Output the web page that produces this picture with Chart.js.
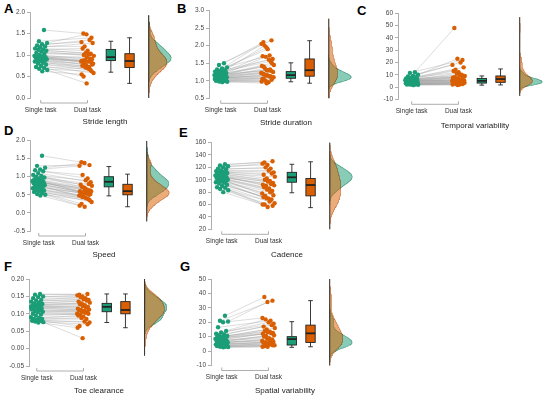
<!DOCTYPE html>
<html><head><meta charset="utf-8">
<script src="https://cdn.jsdelivr.net/npm/chart.js@4.4.1/dist/chart.umd.min.js"></script>
<style>
html,body{margin:0;padding:0;background:#fff;overflow:hidden;width:550px;height:399px;}
#wrap{position:relative;width:550px;height:399px;overflow:hidden;}
#wrap canvas{position:absolute;}
.lab{position:absolute;font:bold 13px "Liberation Sans",Arial,sans-serif;color:#000;line-height:13px;}
</style></head><body><div id="wrap">
<div class="lab" style="left:4px;top:2px">A</div>
<div class="lab" style="left:177px;top:2px">B</div>
<div class="lab" style="left:357px;top:4px">C</div>
<div class="lab" style="left:4px;top:124px">D</div>
<div class="lab" style="left:179px;top:126px">E</div>
<div class="lab" style="left:4px;top:260px">F</div>
<div class="lab" style="left:180px;top:260px">G</div>
</div>
<script>
// ---- data ----
const groupLabels = ['Single task', 'Dual task'];

const strideLengthSingle = [1.58,1.32,1.28,1.25,1.22,1.20,1.18,1.15,1.13,1.12,1.10,1.08,1.05,1.03,1.00,0.98,0.97,0.96,0.95,0.95,0.94,0.93,0.92,0.90,0.90,0.88,0.87,0.86,0.85,0.82,0.80,0.78,0.75,0.72,0.70,0.68,0.65,0.62];
const strideLengthDual   = [1.50,1.40,1.48,1.30,1.35,1.20,1.28,1.10,1.15,1.03,1.05,0.98,1.02,1.00,0.90,0.95,0.86,0.92,0.88,0.80,0.85,0.87,0.83,0.76,0.85,0.72,0.80,0.78,0.70,0.75,0.65,0.71,0.58,0.68,0.50,0.62,0.34,0.55];
const strideLengthBoxSingle = [0.60,0.87,0.95,1.13,1.32];
const strideLengthBoxDual   = [0.34,0.71,0.86,1.03,1.40];

const strideDurSingle = [1.50,1.45,1.38,1.35,1.32,1.30,1.28,1.26,1.25,1.24,1.22,1.20,1.19,1.18,1.17,1.16,1.16,1.15,1.14,1.13,1.12,1.11,1.10,1.10,1.09,1.08,1.07,1.06,1.05,1.04,1.03,1.02,1.01,1.00,0.99,0.98,0.97,0.96];
const strideDurDual   = [2.10,2.15,1.95,2.05,1.72,2.00,1.62,1.90,1.70,1.55,1.68,1.45,1.60,1.40,1.50,1.30,1.42,1.32,1.35,1.25,1.30,1.20,1.28,1.15,1.22,1.12,1.18,1.08,1.16,1.05,1.13,1.00,1.10,0.96,1.06,1.03,0.93,0.98];
const strideDurBoxSingle = [0.97,1.07,1.16,1.26,1.51];
const strideDurBoxDual   = [0.93,1.13,1.30,1.62,2.14];

const tempVarSingle = [12,11.5,10,9,8.5,8,7.5,7,7,6.5,6.5,6,6,6,5.5,5.5,5,5,5,5,4.5,4.5,4,4,4,3.5,3.5,3,3,3,2.5,2.5,2.5,2,2,2,1.8,1.5];
const tempVarDual   = [48,22,23,18,20,14,16,12,13,10,11,9,9.5,8,8.5,7,7.5,6,7,5.5,6,5,6.5,4.5,5,4,5,3.5,4,3,4,2.5,3.5,2,3,2.5,1.7,2];
const tempVarBoxSingle = [1.5,3.2,5.0,7.0,9.0];
const tempVarBoxDual   = [1.7,3.8,6.5,9.0,14.7];

const speedSingle = [1.58,1.30,1.25,1.20,1.18,1.15,1.10,1.05,1.02,1.00,0.98,0.95,0.93,0.90,0.90,0.88,0.87,0.86,0.85,0.84,0.82,0.80,0.78,0.77,0.75,0.73,0.72,0.70,0.68,0.65,0.63,0.62,0.60,0.58,0.55,0.52,0.50,0.48];
const speedDual   = [1.40,1.32,1.38,1.30,0.95,1.05,0.85,0.90,0.78,0.80,0.70,0.75,0.65,0.72,0.62,0.68,0.60,0.62,0.56,0.60,0.55,0.57,0.50,0.58,0.48,0.53,0.44,0.52,0.42,0.50,0.38,0.46,0.30,0.40,0.25,0.35,0.17,0.20];
const speedBoxSingle = [0.47,0.72,0.86,1.00,1.28];
const speedBoxDual   = [0.17,0.50,0.60,0.79,1.07];

const cadenceSingle = [125,123,122,120,118,117,115,114,113,112,111,110,110,109,108,107,106,105,104,104,103,102,101,100,100,99,98,97,96,95,94,92,90,88,87,85,83,80];
const cadenceDual   = [128,130,124,126,118,120,112,115,108,110,102,105,98,100,95,97,92,93,90,91,86,88,82,84,78,80,74,75,70,72,68,70,62,65,60,58,56,60];
const cadenceBoxSingle = [79,96,104,112,125];
const cadenceBoxDual   = [55,74,91.5,102,129];

const toeSingle = [0.157,0.155,0.150,0.148,0.145,0.140,0.138,0.135,0.132,0.130,0.128,0.126,0.125,0.124,0.122,0.120,0.120,0.118,0.116,0.115,0.112,0.110,0.108,0.106,0.105,0.100,0.098,0.095,0.090,0.088,0.085,0.085,0.082,0.080,0.080,0.078,0.076,0.075];
const toeDual   = [0.155,0.157,0.150,0.153,0.145,0.148,0.140,0.142,0.135,0.138,0.130,0.132,0.125,0.128,0.120,0.122,0.115,0.118,0.111,0.112,0.108,0.110,0.105,0.106,0.100,0.103,0.098,0.100,0.092,0.095,0.085,0.088,0.075,0.078,0.065,0.070,0.030,0.060];
const toeBoxSingle = [0.075,0.106,0.120,0.130,0.157];
const toeBoxDual   = [0.060,0.100,0.111,0.135,0.157];

const spatVarSingle = [24.5,21,20.5,20,16.5,14,13,12,11.5,11,10.5,10,10,9.5,9,8.5,8,8,7.5,7,7,6.5,6,6,6,5.5,5,5,4.5,4.5,4,4,3.5,3.5,3,3,2.8,2.6];
const spatVarDual   = [37.5,35,34,23,21,22,19,20,17,18,15,16,13.5,14,12.5,13,12,12.5,10.5,11,9,10,8,8.5,7,7.5,6,6.5,5.5,6,5,5,4,4.5,3.5,4,3,3];
const spatVarBoxSingle = [2.6,4.2,8.3,10,20.4];
const spatVarBoxDual   = [3,6,12.3,18,35];

// ---- layout / style ----
const FONT = '"Liberation Sans", Arial, sans-serif';
const GREEN = '#1b9e77', ORANGE = '#d95f02';
const GREEN_A = 'rgba(27,158,119,0.52)', ORANGE_A = 'rgba(217,95,2,0.52)';
const POS = {single:1, dual:2, boxS:2.5, boxD:2.9, dens:3.31};

const panels = [
  {title:'Stride length', s:strideLengthSingle, d:strideLengthDual, bs:strideLengthBoxSingle, bd:strideLengthBoxDual, ymin:0, ymax:2, step:0.5, dec:1, axisX:30, tick1X:41, yTop:12, yBottom:98, titleY:122.5, right:184},
  {title:'Stride duration', s:strideDurSingle, d:strideDurDual, bs:strideDurBoxSingle, bd:strideDurBoxDual, ymin:0.5, ymax:3, step:0.5, dec:1, axisX:209, tick1X:221, yTop:10.5, yBottom:98.3, titleY:123, right:367},
  {title:'Temporal variability', s:tempVarSingle, d:tempVarDual, bs:tempVarBoxSingle, bd:tempVarBoxDual, ymin:-10, ymax:60, step:10, dec:0, axisX:398, tick1X:412, yTop:13.3, yBottom:99.3, titleY:126, right:556},
  {title:'Speed', s:speedSingle, d:speedDual, bs:speedBoxSingle, bd:speedBoxDual, ymin:-0.5, ymax:2, step:0.5, dec:1, axisX:30, tick1X:39, yTop:140.5, yBottom:231, titleY:255, right:182},
  {title:'Cadence', s:cadenceSingle, d:cadenceDual, bs:cadenceBoxSingle, bd:cadenceBoxDual, ymin:20, ymax:160, step:20, dec:0, axisX:211, tick1X:222, yTop:142.6, yBottom:229.3, titleY:255, right:367},
  {title:'Toe clearance', s:toeSingle, d:toeDual, bs:toeBoxSingle, bd:toeBoxDual, ymin:-0.05, ymax:0.2, step:0.05, dec:2, axisX:29, tick1X:37, yTop:279, yBottom:366, titleY:391, right:173},
  {title:'Spatial variability', s:spatVarSingle, d:spatVarDual, bs:spatVarBoxSingle, bd:spatVarBoxDual, ymin:-10, ymax:50, step:10, dec:0, axisX:211, tick1X:222, yTop:279, yBottom:365.5, titleY:391, right:363}
];

function jit(i, seed){ return ((((i+1)*0.6180339887 + seed) % 1) - 0.5) * 0.28; }

function quant(sorted, p){ const h=(sorted.length-1)*p, lo=Math.floor(h); return sorted[lo] + (sorted[Math.min(lo+1,sorted.length-1)]-sorted[lo])*(h-lo); }
function kde(vals, ymin, ymax){
  const n=vals.length, m=vals.reduce((a,b)=>a+b,0)/n;
  const sd=Math.sqrt(vals.reduce((a,b)=>a+(b-m)*(b-m),0)/(n-1));
  const s=[...vals].sort((a,b)=>a-b);
  const iqr=quant(s,0.75)-quant(s,0.25);
  const bw=1.35*0.9*Math.min(sd, iqr/1.34)*Math.pow(n,-0.2);
  const lo=Math.max(ymin, s[0]-3*bw), hi=Math.min(ymax, s[n-1]+3*bw);
  const pts=[];
  for(let k=0;k<=120;k++){
    const yv=lo+(hi-lo)*k/120;
    let dsum=0; for(const v of vals){ const z=(yv-v)/bw; dsum+=Math.exp(-0.5*z*z); }
    pts.push({y:yv, d:dsum/(n*bw*Math.sqrt(2*Math.PI))});
  }
  return {pts, lo, hi};
}

const rainPlugin = {
  id:'rain',
  beforeDatasetDraw(chart, args){
    if (chart.data.datasets[args.index].blend){ chart.ctx.save(); chart.ctx.globalCompositeOperation='multiply'; }
  },
  afterDatasetDraw(chart, args){
    if (chart.data.datasets[args.index].blend){ chart.ctx.restore(); }
  },
  afterDatasetsDraw(chart, args, o){
    const {ctx, scales:{x,y}, chartArea} = chart;
    ctx.save();
    // x bracket
    const by = chartArea.bottom + 5;
    const x1 = x.getPixelForValue(POS.single), x2 = x.getPixelForValue(POS.dual);
    ctx.strokeStyle='#999'; ctx.lineWidth=0.8;
    ctx.beginPath(); ctx.moveTo(x1,by-3); ctx.lineTo(x1,by); ctx.lineTo(x2,by); ctx.lineTo(x2,by-3); ctx.stroke();
    // boxes
    const hw = 0.1, cw = 0.05;
    for (const b of o.boxes){
      const xc=x.getPixelForValue(b.x), xl=x.getPixelForValue(b.x-hw), xr=x.getPixelForValue(b.x+hw);
      const cl=x.getPixelForValue(b.x-cw), cr=x.getPixelForValue(b.x+cw);
      const [mn,q1,md,q3,mx]=b.stats.map(v=>y.getPixelForValue(v));
      ctx.strokeStyle='#222'; ctx.lineWidth=0.9;
      ctx.beginPath();
      ctx.moveTo(xc,q3); ctx.lineTo(xc,mx); ctx.moveTo(cl,mx); ctx.lineTo(cr,mx);
      ctx.moveTo(xc,q1); ctx.lineTo(xc,mn); ctx.moveTo(cl,mn); ctx.lineTo(cr,mn);
      ctx.stroke();
      ctx.fillStyle=b.color; ctx.fillRect(xl,q3,xr-xl,q1-q3); ctx.strokeRect(xl,q3,xr-xl,q1-q3);
      ctx.lineWidth=1.8; ctx.beginPath(); ctx.moveTo(xl,md); ctx.lineTo(xr,md); ctx.stroke();
    }
    // density baseline
    const bx=x.getPixelForValue(POS.dens);
    ctx.strokeStyle='#333'; ctx.lineWidth=1;
    ctx.beginPath(); ctx.moveTo(bx,y.getPixelForValue(o.dlo)); ctx.lineTo(bx,y.getPixelForValue(o.dhi)); ctx.stroke();
    ctx.restore();
  }
};

const wrap=document.getElementById('wrap');
panels.forEach(p=>{
  const yw=30;
  const left=p.axisX-yw;
  const top=Math.floor(p.yTop)-6;
  const pt=p.yTop-top;
  const W=Math.round(p.right-left);
  const H=Math.round(p.titleY+4.8-top);
  const xh=H-(p.yBottom-top);
  const cv=document.createElement('canvas');
  cv.width=W; cv.height=H; cv.style.left=left+'px'; cv.style.top=top+'px';
  cv.style.width=W+'px'; cv.style.height=H+'px';
  wrap.appendChild(cv);

  const xmin=POS.single-(p.tick1X-p.axisX)/48;
  const xmax=xmin+(p.right-p.axisX)/48;

  const ptsS=p.s.map((v,i)=>({x:POS.single+jit(i,0.13),y:v}));
  const ptsD=p.d.map((v,i)=>({x:POS.dual+jit(i,0.57),y:v}));
  const conn=[];
  p.s.forEach((v,i)=>{ conn.push(ptsS[i]); conn.push(ptsD[i]); conn.push({x:ptsD[i].x,y:null}); });

  const kS=kde(p.s,p.ymin,p.ymax), kD=kde(p.d,p.ymin,p.ymax);
  const peak=Math.max(...kS.pts.map(q=>q.d), ...kD.pts.map(q=>q.d));
  const sc=0.48/peak;
  const poly=k=>{ const a=k.pts.map(q=>({x:POS.dens+q.d*sc,y:q.y})); a.push({x:POS.dens,y:k.hi}); a.push({x:POS.dens,y:k.lo}); return a; };

  new Chart(cv,{
    type:'scatter',
    data:{datasets:[
      {type:'scatter', data:ptsS, backgroundColor:GREEN, borderWidth:0, pointRadius:2.2, order:1},
      {type:'scatter', data:ptsD, backgroundColor:ORANGE, borderWidth:0, pointRadius:2.2, order:2},
      {type:'line', data:conn, borderColor:'rgba(150,150,150,0.55)', borderWidth:0.6, pointRadius:0, spanGaps:false, fill:false, order:5},
      {type:'line', blend:true, data:poly(kD), borderColor:'rgba(190,80,0,0.7)', backgroundColor:ORANGE_A, borderWidth:0.6, pointRadius:0, fill:'shape', tension:0, order:3},
      {type:'line', blend:true, data:poly(kS), borderColor:'rgba(20,130,95,0.7)', backgroundColor:GREEN_A, borderWidth:0.6, pointRadius:0, fill:'shape', tension:0, order:4}
    ]},
    options:{
      responsive:false, animation:false, devicePixelRatio:1, events:[],
      layout:{padding:{top:pt,left:0,right:0,bottom:0}},
      plugins:{legend:{display:false}, tooltip:{enabled:false},
        rain:{boxes:[{x:POS.boxS,stats:p.bs,color:GREEN},{x:POS.boxD,stats:p.bd,color:ORANGE}], dlo:Math.min(kS.lo,kD.lo), dhi:Math.max(kS.hi,kD.hi)}},
      scales:{
        x:{type:'linear', min:xmin, max:xmax,
          afterFit(s){ s.height=xh; },
          afterBuildTicks(s){ s.ticks=[{value:POS.single},{value:POS.dual}]; },
          ticks:{autoSkip:false, maxRotation:0, padding:8, font:{size:6.5,family:FONT}, color:'#333',
            callback:v=> v===POS.single?groupLabels[0]:(v===POS.dual?groupLabels[1]:'')},
          grid:{display:false, drawTicks:false}, border:{display:false},
          title:{display:true, text:p.title, font:{size:8,family:FONT}, color:'#222', padding:0}
        },
        y:{type:'linear', min:p.ymin, max:p.ymax,
          afterFit(s){ s.width=yw; },
          ticks:{stepSize:p.step, autoSkip:false, padding:2, font:{size:6.5,family:FONT}, color:'#444',
            callback:v=> (Math.abs(v)<1e-9?0:v).toFixed(p.dec)},
          grid:{display:true, drawOnChartArea:false, drawTicks:true, tickLength:3, color:'#999', lineWidth:0.8},
          border:{display:true, color:'#999', width:0.8}
        }
      }
    },
    plugins:[rainPlugin]
  });
});
</script>
</body></html>
